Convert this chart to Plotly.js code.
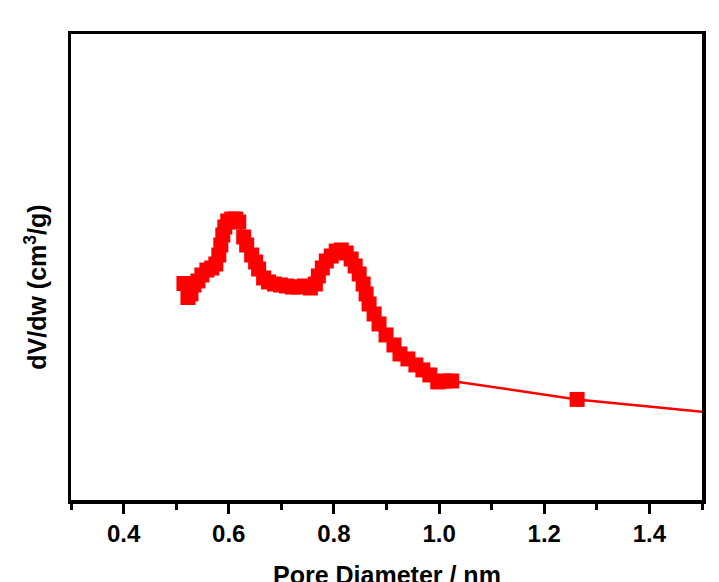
<!DOCTYPE html>
<html>
<head>
<meta charset="utf-8">
<script src="https://cdn.plot.ly/plotly-3.0.1.min.js"></script>
<style>html,body{margin:0;padding:0;background:#fff;}#chart{width:719px;height:582px;}</style>
</head>
<body>
<div id="chart"></div>
<script>
// Pore diameter (nm)
const poreDiameter = [
  0.5148, 0.5224, 0.5281, 0.5338, 0.5413, 0.5489, 0.5584, 0.5678, 0.5754, 0.5811,
  0.5849, 0.5887, 0.5925, 0.5981, 0.6057, 0.6133, 0.6190, 0.6284, 0.6341, 0.6436,
  0.6511, 0.6568, 0.6663, 0.6757, 0.6871, 0.6985, 0.7098, 0.7212, 0.7325, 0.7439,
  0.7552, 0.7647, 0.7704, 0.7779, 0.7855, 0.7950, 0.8044, 0.8139, 0.8234, 0.8328,
  0.8404, 0.8480, 0.8556, 0.8612, 0.8669, 0.8764, 0.8858, 0.8991, 0.9142, 0.9256,
  0.9407, 0.9559, 0.9691, 0.9824, 0.9975, 1.0108, 1.0240, 1.2625, 1.6000
];
// dV/dw (arbitrary units)
const dVdw = [
  0.4649, 0.4351, 0.4426, 0.4617, 0.4702, 0.4830, 0.4936, 0.4979, 0.5064, 0.5255,
  0.5468, 0.5681, 0.5851, 0.5979, 0.6021, 0.6021, 0.5957, 0.5638, 0.5468, 0.5255,
  0.5106, 0.4957, 0.4766, 0.4681, 0.4638, 0.4617, 0.4596, 0.4574, 0.4574, 0.4596,
  0.4553, 0.4638, 0.4809, 0.4979, 0.5128, 0.5234, 0.5340, 0.5362, 0.5298, 0.5170,
  0.5021, 0.4851, 0.4638, 0.4426, 0.4213, 0.4000, 0.3787, 0.3553, 0.3340, 0.3149,
  0.3043, 0.2915, 0.2809, 0.2702, 0.2553, 0.2574, 0.2574, 0.2181, 0.1810
];
const xTickVals = [0.4, 0.6, 0.8, 1.0, 1.2, 1.4];
const xTickText = ['0.4', '0.6', '0.8', '1.0', '1.2', '1.4'];

const font = 'Liberation Sans, Arial, sans-serif';

const trace = {
  x: poreDiameter,
  y: dVdw,
  type: 'scatter',
  mode: 'lines+markers',
  line: {color: '#ff0000', width: 2.5},
  marker: {symbol: 'square', size: 15, color: '#ff0000', line: {width: 0}},
  cliponaxis: true,
  showlegend: false
};

const layout = {
  width: 719,
  height: 582,
  margin: {l: 71, r: 17, t: 34, b: 82, pad: 0},
  paper_bgcolor: '#ffffff',
  plot_bgcolor: '#ffffff',
  font: {family: font, color: '#000'},
  xaxis: {
    range: [0.3, 1.5],
    tickvals: xTickVals,
    ticktext: xTickText,
    ticks: 'outside',
    ticklen: 10,
    tickwidth: 3,
    tickcolor: '#000',
    minor: {ticks: 'outside', ticklen: 6, tickwidth: 3, tickcolor: '#000', tick0: 0.3, dtick: 0.2},
    showline: true,
    linewidth: 3.5,
    linecolor: '#000',
    mirror: true,
    showgrid: false,
    zeroline: false,
    tickfont: {family: font, size: 24, color: '#000', weight: 'bold'}
  },
  yaxis: {
    range: [0.004, 0.996],
    showticklabels: false,
    ticks: '',
    showline: true,
    linewidth: 3.5,
    linecolor: '#000',
    mirror: true,
    showgrid: false,
    zeroline: false
  },
  annotations: [
    {
      text: '<b>Pore Diameter / nm</b>',
      xref: 'paper', yref: 'paper',
      x: 0.5, y: -0.16,
      xanchor: 'center', yanchor: 'middle',
      showarrow: false,
      font: {family: font, size: 25, color: '#000'}
    },
    {
      text: '<b>dV/dw (cm<sup>3</sup>/g)</b>',
      xref: 'paper', yref: 'paper',
      x: -0.056, y: 0.457,
      xanchor: 'center', yanchor: 'middle',
      textangle: -90,
      showarrow: false,
      font: {family: font, size: 25, color: '#000'}
    }
  ]
};

Plotly.newPlot('chart', [trace], layout, {displayModeBar: false, staticPlot: true});
</script>
</body>
</html>
